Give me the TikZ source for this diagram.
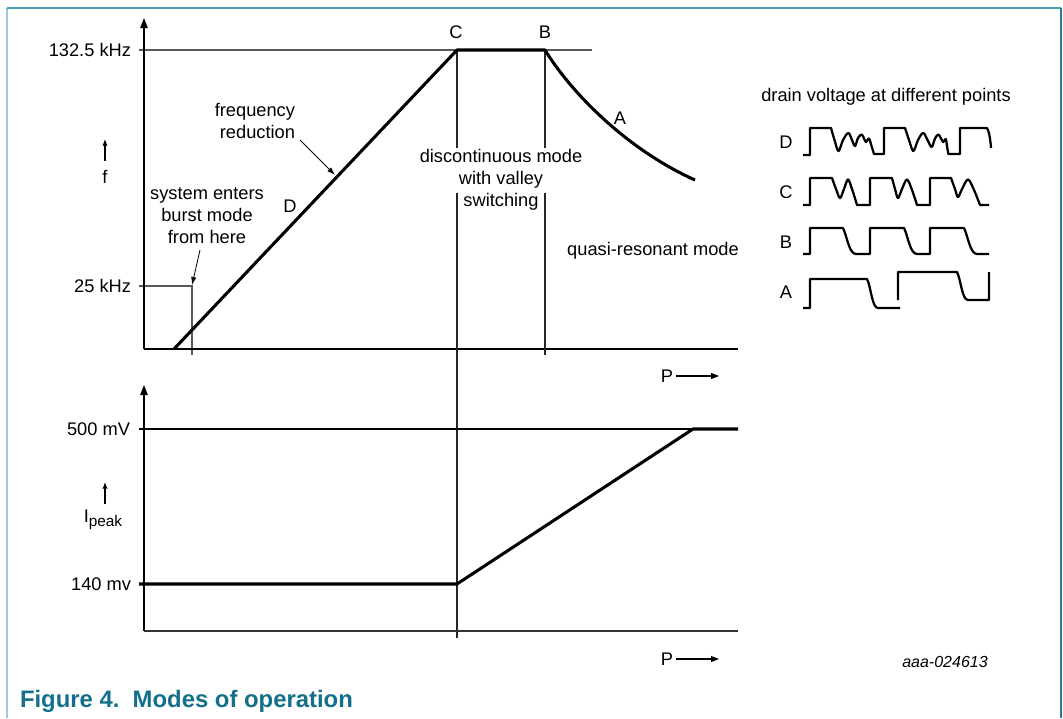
\documentclass[tikz,border=0pt]{standalone}
\usepackage{fontspec}
\setmainfont{Liberation Sans}
\usetikzlibrary{arrows.meta}
\definecolor{frameL}{RGB}{150,205,215}
\definecolor{frameT}{RGB}{70,160,180}
\definecolor{frameR}{RGB}{40,125,150}
\definecolor{titlec}{RGB}{20,112,138}
\definecolor{guidec}{RGB}{90,90,90}
\begin{document}
\begin{tikzpicture}[x=0.75pt,y=-0.75pt,
  font=\fontsize{13.7}{16.5}\selectfont,
  axisln/.style={line width=1.3pt,-{Triangle[length=7.5pt,width=5.5pt]}},
  baseln/.style={line width=1.3pt},
  guide/.style={line width=0.9pt,color=guidec},
  vline/.style={line width=0.8pt,color=black!85},
  curve/.style={line width=2.3pt,line join=round},
  wave/.style={line width=1.7pt,line join=round},
  ptr/.style={line width=0.6pt,-{Latex[length=6pt,width=4pt]}},
  uparr/.style={line width=0.9pt,-{Latex[length=5pt,width=4pt]}},
  parr/.style={line width=0.8pt,-{Triangle[length=6pt,width=4.5pt]}},
  lbl/.style={inner sep=0pt,outer sep=0pt}]
% background / bounding box
\fill[white] (0,0) rectangle (1063,718);
\useasboundingbox (0,0) rectangle (1063,718);
% frame
\draw[frameL,line width=1.5pt] (7,8) -- (7,718);
\draw[frameT,line width=1.5pt] (7,8) -- (1061,8);
\draw[frameR,line width=1.5pt] (1061,8) -- (1061,718);

% ---------------- upper graph ----------------
\coordinate (uo) at (144,349);
\coordinate (uy) at (144,18);
\coordinate (ux) at (738,349);
\draw[guide] (139,50) -- (592,50);
\draw[guide] (139,286) -- (192,286) -- (192,355);
\draw[baseln] (uo) -- (ux);
\draw[axisln] (uo) -- (uy);

% vertical lines C and B
\draw[vline] (457,50) -- (457,148);
\draw[vline] (457,193) -- (457,638);
\draw[vline] (545,50) -- (545,148);
\draw[vline] (545,193) -- (545,355);

% curve D - C - B - A
\coordinate (pD0) at (174,349);
\coordinate (pC) at (457,50);
\coordinate (pB) at (545,50);
\coordinate (pA) at (695,180);
\draw[curve] (pD0) -- (pC) -- (pB) .. controls (572,94) and (628,150) .. (pA);

% labels
\node[lbl,anchor=east] (t132) at (131,50) {132.5 kHz};
\node[lbl,anchor=east] (t25) at (131,286) {25 kHz};
\node[lbl] (lC) at (456,32) {C};
\node[lbl] (lB) at (545,32) {B};
\node[lbl] (lA) at (620,118) {A};
\node[lbl] (lD) at (290,206) {D};
\node[lbl,align=right,anchor=east] (freq) at (295,121) {frequency\\reduction};
\coordinate (freqS) at (300,140);
\coordinate (freqT) at (335,175);
\draw[ptr] (freqS) -- (freqT);
\node[lbl,align=center] (burst) at (207,216) {system enters\\burst mode\\from here};
\coordinate (burstS) at (200,250);
\coordinate (burstT) at (192,285);
\draw[ptr] (burstS) -- (burstT);
\node[lbl,align=center] (disc) at (501,180) {discontinuous mode\\with valley\\switching};
\node[lbl] (qr) at (653,251) {quasi-resonant mode};
% f axis label
\coordinate (fa0) at (105,161);
\coordinate (fa1) at (105,139);
\draw[uparr] (fa0) -- (fa1);
\node[lbl] (fy) at (105,177) {f};
% P arrow
\node[lbl] (P1) at (667,376) {P};
\coordinate (P1e) at (719,376);
\draw[parr] (P1.east) ++(3,0) -- (P1e);

% ---------------- lower graph ----------------
\coordinate (lo) at (144,631);
\coordinate (ly) at (144,385);
\coordinate (lx) at (738,631);
\draw[line width=0.9pt] (139,429) -- (738,429);
\draw[baseln,color=black!80] (lo) -- (lx);
\draw[axisln] (lo) -- (ly);
\coordinate (q0) at (139,584);
\coordinate (q1) at (457,584);
\coordinate (q2) at (693,429);
\coordinate (q3) at (738,429);
\draw[curve] (q0) -- (q1) -- (q2) -- (q3);
\node[lbl,anchor=east] (t500) at (130,429) {500 mV};
\node[lbl,anchor=east] (t140) at (131,584) {140 mv};
\coordinate (ia0) at (105,504);
\coordinate (ia1) at (105,482);
\draw[uparr] (ia0) -- (ia1);
\node[lbl] (ipk) at (103,520) {I\raisebox{-0.45ex}{\fontsize{11.5}{12}\selectfont peak}};
\node[lbl] (P2) at (667,659) {P};
\coordinate (P2e) at (719,659);
\draw[parr] (P2.east) ++(3,0) -- (P2e);
\node[lbl,font=\fontsize{12}{13}\selectfont\itshape] (code) at (945,662) {aaa-024613};

% ---------------- drain voltage waveforms ----------------
\node[lbl] (drain) at (886,97) {drain voltage at different points};
\node[lbl] (wD) at (786,142) {D};
\node[lbl] (wC) at (786,192) {C};
\node[lbl] (wB) at (786,242) {B};
\node[lbl] (wA) at (786,292) {A};
% D
\draw[wave] (803,155) -- (810,155) -- (810,128) -- (831,128)
  -- plot[smooth,tension=0.55] coordinates {(831,128) (834.5,140) (838.5,151) (843,140) (848.3,133) (852,140) (855,146) (858,138) (861.7,134.5) (864,138.5) (866,142) (869,138.5) (871.5,146) (874,154)}
  -- (884,154) -- (884,128) -- (905,128)
  -- plot[smooth,tension=0.55] coordinates {(905,128) (909,140) (913.3,151) (918,140) (923.3,133) (928,141) (931.7,147) (935,138.5) (938.3,134.5) (941,138.5) (943.3,142) (945.7,139) (947,146) (948.3,154)}
  -- (960,154) -- (960,128) -- (987,128) .. controls (989,131) and (990.5,140) .. (991,148);
% C
\draw[wave] (803,205) -- (810,205) -- (810,178) -- (832,178)
  -- plot[smooth,tension=0.55] coordinates {(832,178) (836,189) (840,198) (844,189) (848,179.5) (852,189) (857,205)}
  -- (870,205) -- (870,178) -- (892,178)
  -- plot[smooth,tension=0.55] coordinates {(892,178) (895,189) (898,198) (902,189) (907,179.5) (912,190) (917,205)}
  -- (930,205) -- (930,178) -- (951,178)
  -- plot[smooth,tension=0.55] coordinates {(951,178) (955,189) (958,197) (962,189) (968,179.5) (974,190) (980,205)}
  -- (989,205);
% B
\draw[wave] (803,254) -- (810,254) -- (810,228) -- (843,228)
  .. controls (847,236) and (849,254) .. (856,254) -- (870,254) -- (870,228) -- (904,228)
  .. controls (908,236) and (910,254) .. (917,254) -- (930,254) -- (930,228) -- (964,228)
  .. controls (968,236) and (970,254) .. (977,254) -- (989,254);
% A
\draw[wave] (803,308) -- (810,308) -- (810,279) -- (867,279)
  .. controls (871,287) and (872,308) .. (878,308) -- (900,308);
\draw[wave] (898,300) -- (898,272) -- (957,272)
  .. controls (961,280) and (962,300) .. (968,300) -- (989,300) -- (989,272);

% title
\node[lbl,anchor=west,text=titlec,font=\fontsize{17.9}{20}\selectfont\bfseries] (title) at (20,701) {Figure 4.\ \ Modes of operation};
\end{tikzpicture}
\end{document}
